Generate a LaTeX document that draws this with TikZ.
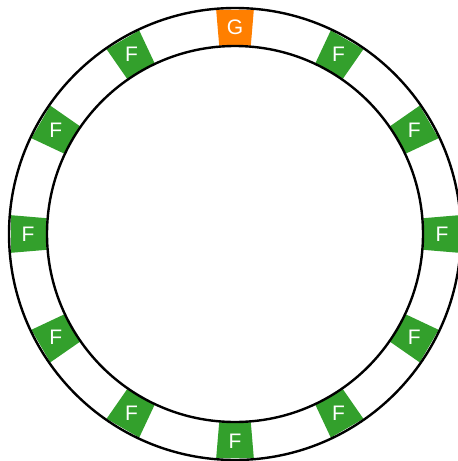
\documentclass[tikz,border=0pt]{standalone}
\usepackage{fontspec}
\setmainfont{Liberation Sans}
\definecolor{segF}{HTML}{33A02C}
\definecolor{segG}{HTML}{FF7F00}
\tikzset{
  ring/.style={draw=black, line width=2.4pt},
  lbl/.style={text=white, font=\fontsize{21}{25}\selectfont, inner sep=0pt}
}
\begin{document}
\begin{tikzpicture}[x=1pt,y=1pt]
\useasboundingbox (0,0) rectangle (458,-461);
\begin{scope}[shift={(235,-234)}]
  \foreach \i in {0,...,11} {
    \pgfmathsetmacro\a{90-30*\i}
    \ifnum\i=0 \def\col{segG}\def\txt{G}\else \def\col{segF}\def\txt{F}\fi
    \fill[\col] (\a-4.8:189) -- (\a+4.8:189) -- (\a+4.8:225) -- (\a-4.8:225) -- cycle;
    \node[lbl] (s\i) at (\a:207) {\txt};
  }
  \draw[ring] (0,0) circle (226);
  \draw[ring] (0,0) circle (188);
\end{scope}
\end{tikzpicture}
\end{document}
